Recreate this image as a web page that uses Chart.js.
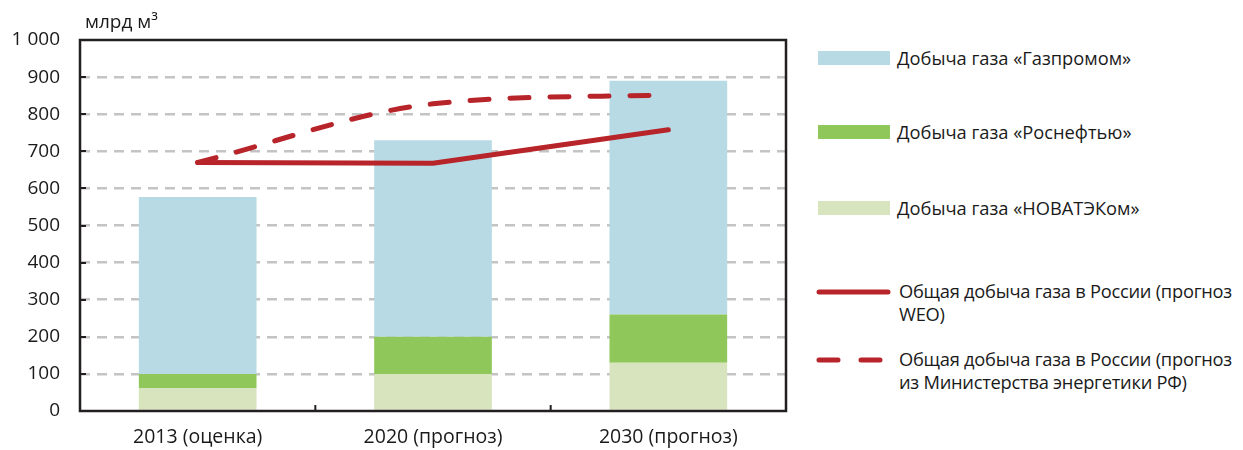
<!DOCTYPE html>
<html>
<head>
<meta charset="utf-8">
<script src="https://cdn.jsdelivr.net/npm/chart.js@4.4.1/dist/chart.umd.min.js"></script>
<style>
  body { margin: 0; background: #fff; font-family: "Open Sans", sans-serif; }
  #wrap { position: relative; width: 1243px; height: 450px; }
  #box { position: absolute; left: 0; top: 0; width: 800px; height: 450px; }
  #legend { position: absolute; left: 818px; top: 0; width: 425px; height: 450px; }
  .item { position: absolute; left: 0; display: flex; align-items: flex-start; }
  .sw { width: 72px; height: 14px; margin-top: 5px; flex: none; }
  .txt { margin-left: 7px; font-size: 18.3px; line-height: 23px; color: #1a1a1a; white-space: pre; }
  .txt.long { letter-spacing: -0.25px; }
</style>
</head>
<body>
<div id="wrap">
  <div id="box"><canvas id="chart"></canvas></div>
  <div id="legend"></div>
</div>
<script>
  var categories = ["2013 (оценка)", "2020 (прогноз)", "2030 (прогноз)"];
  var novatek = [62, 100, 130];
  var rosneft = [38, 100, 130];
  var gazprom = [477, 530, 630];
  var totalWeo = [670, 668, 758];
  var totalMinistry = [670, 828, 852];
  var yTicks = [0, 100, 200, 300, 400, 500, 600, 700, 800, 900, 1000];
  var unitLabel = "млрд м³";
  var names = [
    "Добыча газа «Газпромом»",
    "Добыча газа «Роснефтью»",
    "Добыча газа «НОВАТЭКом»",
    "Общая добыча газа в России (прогноз\nWEO)",
    "Общая добыча газа в России (прогноз\nиз Министерства энергетики РФ)"
  ];

  var red = "#b7242a";
  var font = { family: "'Open Sans', sans-serif", size: 19 };

  // frame + inward ticks + unit label
  var framePlugin = {
    id: "frame",
    afterDraw: function (chart) {
      var c = chart.ctx, a = chart.chartArea;
      var x = chart.scales.x, y = chart.scales.y;
      c.save();
      c.strokeStyle = "#231f20";
      c.lineWidth = 2.5;
      c.strokeRect(a.left, a.top, a.right - a.left, a.bottom - a.top);
      c.lineWidth = 2;
      yTicks.forEach(function (v) {
        var py = Math.round(y.getPixelForValue(v));
        c.beginPath(); c.moveTo(a.left, py); c.lineTo(a.left + 6, py); c.stroke();
      });
      for (var i = 1; i < categories.length; i++) {
        var px = (x.getPixelForValue(i - 1) + x.getPixelForValue(i)) / 2;
        c.beginPath(); c.moveTo(px, a.bottom); c.lineTo(px, a.bottom - 6); c.stroke();
      }
      c.fillStyle = "#1a1a1a";
      c.font = "19px 'Open Sans', sans-serif";
      c.textBaseline = "alphabetic";
      c.fillText(unitLabel, a.left + 5, a.top - 12);
      c.restore();
    }
  };

  var ctx = document.getElementById("chart");
  var chart = new Chart(ctx, {
    type: "bar",
    data: {
      labels: categories,
      datasets: [
        { type: "line", label: names[3], data: totalWeo, stack: "weo", order: 0,
          borderColor: red, borderWidth: 5, borderCapStyle: "round", pointRadius: 0, tension: 0, fill: false },
        { type: "line", label: names[4], data: totalMinistry, stack: "min", order: 0,
          borderColor: red, borderWidth: 5, borderCapStyle: "round", borderDash: [19, 21],
          pointRadius: 0, cubicInterpolationMode: "monotone", fill: false },
        { label: names[2], data: novatek, backgroundColor: "#d7e4bd", stack: "s", order: 1 },
        { label: names[1], data: rosneft, backgroundColor: "#8fc75a", stack: "s", order: 1 },
        { label: names[0], data: gazprom, backgroundColor: "#b7dae4", stack: "s", order: 1 }
      ]
    },
    options: {
      responsive: true,
      maintainAspectRatio: false,
      animation: false,
      layout: { padding: { top: 40, right: 14, left: 0, bottom: 0 } },
      plugins: { legend: { display: false }, tooltip: { enabled: false } },
      datasets: { bar: { categoryPercentage: 0.5, barPercentage: 1 } },
      scales: {
        x: {
          stacked: true,
          grid: { display: false, drawTicks: false },
          border: { display: false },
          ticks: { font: { family: font.family, size: 19.5 }, color: "#1a1a1a", padding: 15 },
          afterFit: function (s) { s.height = 39; }
        },
        y: {
          stacked: true,
          min: 0, max: 1000,
          afterBuildTicks: function (s) { s.ticks = yTicks.map(function (v) { return { value: v }; }); },
          afterFit: function (s) { s.width = 80; },
          grid: {
            drawTicks: false,
            color: function (c) { return (c.tick.value === 0 || c.tick.value === 1000) ? "rgba(0,0,0,0)" : "#c4c4c4"; },
            lineWidth: 2.5
          },
          border: { display: false, dash: [10, 7] },
          ticks: {
            font: font, color: "#1a1a1a", padding: 20,
            callback: function (v) { return v >= 1000 ? "1 000" : v; }
          }
        }
      }
    },
    plugins: [framePlugin]
  });

  // html legend built from the datasets
  var legendTops = [46, 120, 196, 279, 347];
  var order = [4, 3, 2, 0, 1];
  var lg = document.getElementById("legend");
  order.forEach(function (di, k) {
    var ds = chart.data.datasets[di];
    var item = document.createElement("div");
    item.className = "item";
    item.style.top = legendTops[k] + "px";
    var sw;
    if (ds.type === "line") {
      sw = document.createElement("canvas");
      sw.width = 76; sw.height = 20;
      sw.style.marginTop = "2px";
      sw.style.marginLeft = "-2px";
      var g = sw.getContext("2d");
      g.strokeStyle = ds.borderColor; g.lineWidth = 5; g.lineCap = "round";
      if (ds.borderDash) g.setLineDash([19, 23]);
      g.beginPath(); g.moveTo(3, 11); g.lineTo(72, 11); g.stroke();
    } else {
      sw = document.createElement("div");
      sw.className = "sw";
      sw.style.background = ds.backgroundColor;
    }
    var t = document.createElement("div");
    t.className = ds.type === "line" ? "txt long" : "txt";
    t.textContent = ds.label;
    item.appendChild(sw);
    item.appendChild(t);
    lg.appendChild(item);
  });
</script>
</body>
</html>
